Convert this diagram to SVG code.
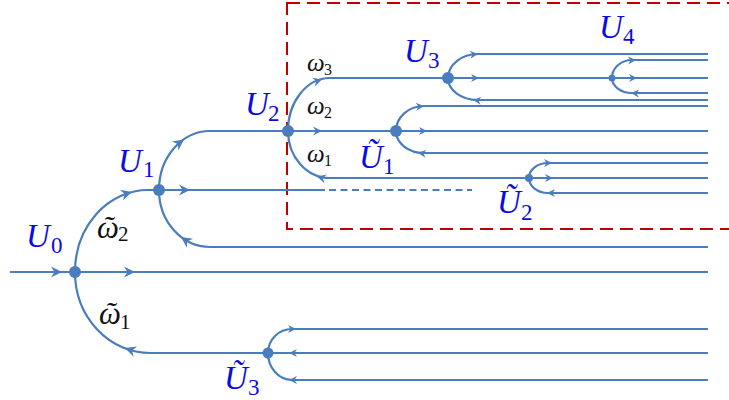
<svg xmlns="http://www.w3.org/2000/svg" width="729" height="400" viewBox="0 0 729 400">
<style>
.ln{fill:none;stroke:#4a7dbd;stroke-width:2.2}
.dash{fill:none;stroke:#4a7dbd;stroke-width:2.2;stroke-dasharray:7 4.5}
.ah{fill:#4a7dbd}
.dot{fill:#4a7dbd}
.box{fill:none;stroke:#c00000;stroke-width:2;stroke-dasharray:13 7}
.U{font-family:"Liberation Serif","DejaVu Serif",serif;font-style:italic;font-size:33px;fill:#0a0ae6}
.Us{font-family:"Liberation Serif","DejaVu Serif",serif;font-size:23px;fill:#0a0ae6}
.w{font-family:"Liberation Serif","DejaVu Serif",serif;font-style:italic;font-size:31px;fill:#111}
.ws{font-family:"Liberation Serif","DejaVu Serif",serif;font-size:21px;fill:#111}
.w2{font-family:"Liberation Serif","DejaVu Serif",serif;font-style:italic;font-size:25px;fill:#111}
.w2s{font-family:"Liberation Serif","DejaVu Serif",serif;font-size:16px;fill:#111}
</style>
<defs>
<path id="ab" class="ah" d="M0,0 L-11,-5.5 L-7.5,0 L-11,5.5 Z"/>
<path id="am" class="ah" d="M0,0 L-9,-4.5 L-6,0 L-9,4.5 Z"/>
<path id="as" class="ah" d="M0,0 L-8,-4 L-5.5,0 L-8,4 Z"/>
</defs>
<rect class="box" x="287" y="3" width="460" height="226"/>
<g id="connectors">
<path class="ln" d="M10,272 L708,272"/>
<path class="ln" d="M75,272 A73,82 0 0 1 148,190 L159,190"/>
<path class="ln" d="M75,272 A75,81 0 0 0 150,353 L708,353"/>
<path class="ln" d="M159,190 A51,59 0 0 1 210,131 L708,131"/>
<path class="ln" d="M159,190 A51,57 0 0 0 210,247 L708,247"/>
<path class="ln" d="M159,190 L325,190"/>
<path class="dash" d="M329,190 L472,190"/>
<path class="ln" d="M288,131 A42,53 0 0 1 330,78 L708,78"/>
<path class="ln" d="M288,131 A42,47 0 0 0 330,178 L708,178"/>
<path class="ln" d="M396,131 A28,25 0 0 1 424,106 L708,106"/>
<path class="ln" d="M396,131 A28,22 0 0 0 424,153 L708,153"/>
<path class="ln" d="M448,78 A30,24 0 0 1 478,54 L708,54"/>
<path class="ln" d="M448,78 A30,22 0 0 0 478,100 L708,100"/>
<path class="ln" d="M612,78 A20,18 0 0 1 632,60 L708,60"/>
<path class="ln" d="M612,78 A20,15 0 0 0 632,93 L708,93"/>
<path class="ln" d="M529,178 A19,15 0 0 1 548,163 L708,163"/>
<path class="ln" d="M529,178 A19,15 0 0 0 548,193 L708,193"/>
<path class="ln" d="M268,353 A24,24 0 0 1 292,329 L708,329"/>
<path class="ln" d="M268,353 A24,27 0 0 0 292,380 L708,380"/>
<use href="#ab" transform="translate(62,272)"/>
<use href="#ab" transform="translate(135,272)"/>
<use href="#ab" transform="translate(132,192) rotate(-16)"/>
<use href="#ab" transform="translate(125,348) rotate(199)"/>
<use href="#ab" transform="translate(190,190)"/>
<use href="#ab" transform="translate(184,139.5) rotate(-36)"/>
<use href="#ab" transform="translate(181,237) rotate(215)"/>
<use href="#am" transform="translate(322,131)"/>
<use href="#am" transform="translate(322,79.5) rotate(-17)"/>
<use href="#am" transform="translate(317,176.5) rotate(195)"/>
<use href="#as" transform="translate(427,131)"/>
<use href="#as" transform="translate(424,106) rotate(-5)"/>
<use href="#as" transform="translate(418,153) rotate(186)"/>
<use href="#as" transform="translate(479,78)"/>
<use href="#as" transform="translate(478,54) rotate(-5)"/>
<use href="#as" transform="translate(473,100) rotate(185)"/>
<use href="#as" transform="translate(637,78)"/>
<use href="#as" transform="translate(636,60) rotate(-3)"/>
<use href="#as" transform="translate(631,93) rotate(183)"/>
<use href="#as" transform="translate(553,178)"/>
<use href="#as" transform="translate(552,163)"/>
<use href="#as" transform="translate(547,193) rotate(180)"/>
<use href="#as" transform="translate(296,329)"/>
<use href="#as" transform="translate(289,353) rotate(180)"/>
<use href="#as" transform="translate(289,380) rotate(180)"/>
</g>
<g id="U0"><circle class="dot" cx="75" cy="272" r="6"/><text class="U" x="26" y="247">U</text><text class="Us" x="51" y="253">0</text></g>
<g id="U1"><circle class="dot" cx="159" cy="190" r="6"/><text class="U" x="118" y="172">U</text><text class="Us" x="143" y="177">1</text></g>
<g id="U2"><circle class="dot" cx="288" cy="131" r="6"/><text class="U" x="245" y="115">U</text><text class="Us" x="268" y="121">2</text></g>
<g id="U3"><circle class="dot" cx="448" cy="78" r="6"/><text class="U" x="404" y="62">U</text><text class="Us" x="428" y="68">3</text></g>
<g id="U4"><circle class="dot" cx="612" cy="78" r="3.5"/><text class="U" x="599" y="38">U</text><text class="Us" x="623" y="44">4</text></g>
<g id="Ut1"><circle class="dot" cx="396" cy="131" r="6"/><text class="U" x="359" y="168">Ũ</text><text class="Us" x="383" y="174">1</text></g>
<g id="Ut2"><circle class="dot" cx="529" cy="178" r="4"/><text class="U" x="497" y="213">Ũ</text><text class="Us" x="521" y="220">2</text></g>
<g id="Ut3"><circle class="dot" cx="268" cy="353" r="5.5"/><text class="U" x="224" y="389">Ũ</text><text class="Us" x="248" y="395">3</text></g>
<g id="w-labels">
<text class="w" x="97" y="238">ῶ</text><text class="ws" x="118" y="241">2</text>
<text class="w" x="99" y="324">ῶ</text><text class="ws" x="120" y="329">1</text>
<text class="w2" x="307" y="71">ω</text><text class="w2s" x="324" y="75">3</text>
<text class="w2" x="307" y="114">ω</text><text class="w2s" x="324" y="118">2</text>
<text class="w2" x="307" y="162">ω</text><text class="w2s" x="324" y="166">1</text>
</g>
</svg>
